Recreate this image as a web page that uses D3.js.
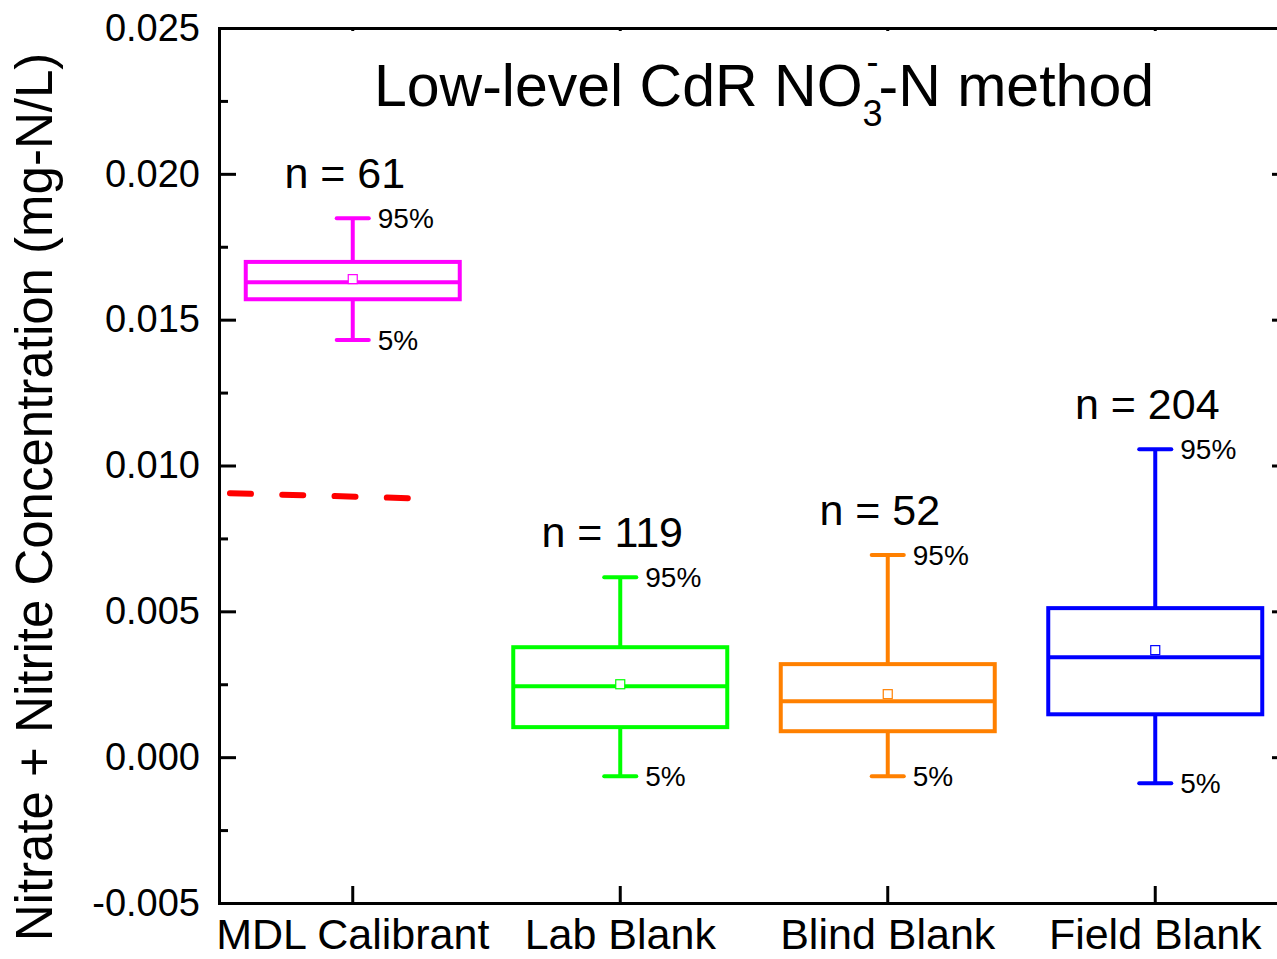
<!DOCTYPE html>
<html>
<head>
<meta charset="utf-8">
<script src="https://cdn.jsdelivr.net/npm/d3@7"></script>
<style>
  html, body { margin: 0; padding: 0; background: #fff; }
  svg { display: block; font-family: "Liberation Sans", Arial, sans-serif; }
</style>
</head>
<body>
<svg id="chart" width="1277" height="959"></svg>
<script>
// Sample groups and their summary statistics (mg-N/L)
const categories = ["MDL Calibrant", "Lab Blank", "Blind Blank", "Field Blank"];
const colors     = ["#ff00ff", "#00ff00", "#ff8000", "#0000ff"];
const counts     = [61, 119, 52, 204];
const p95        = [0.01848, 0.00617, 0.00693, 0.01056];
const q3         = [0.01698, 0.00377, 0.00319, 0.00511];
const medians    = [0.01628, 0.00243, 0.00192, 0.00343];
const means      = [0.01639, 0.00250, 0.00216, 0.00367];
const q1         = [0.01570, 0.00103, 0.00089, 0.00147];
const p5         = [0.01430, -0.00065, -0.00065, -0.00089];

// Method detection limit reference line (x in category-index units)
const mdlLineX = [-0.459, 0.206];
const mdlLineY = [0.00905, 0.00888];

const yMajorTicks = [-0.005, 0.000, 0.005, 0.010, 0.015, 0.020, 0.025];
const yMinorTicks = [-0.0025, 0.0025, 0.0075, 0.0125, 0.0175, 0.0225];

const margin = { left: 219, right: 1289, top: 28, bottom: 903 };

const svg = d3.select("#chart");

const y = d3.scaleLinear().domain([-0.005, 0.025]).range([margin.bottom, margin.top]);
const x = d3.scaleBand().domain(categories).range([margin.left, margin.right]);
const xIdx = d3.scaleLinear().domain([-0.5, categories.length - 0.5]).range([margin.left, margin.right]);

const bw = x.bandwidth();
const boxW = bw * 0.8;
const capW = bw * 0.12;

const data = categories.map((c, i) => ({
  cat: c, color: colors[i], n: counts[i],
  p95: p95[i], q3: q3[i], med: medians[i], mean: means[i], q1: q1[i], p5: p5[i],
  cx: x(c) + bw / 2
}));

// Axes: inward major and minor ticks on all sides
const axisStyle = g => {
  g.selectAll(".domain").attr("stroke", "#000").attr("stroke-width", 3);
  g.selectAll(".tick line").attr("stroke", "#000").attr("stroke-width", 3);
};
const fmt3 = d3.format(".3f");
const yFormat = d => fmt3(d).replace("\u2212", "-");

svg.append("g")
  .attr("transform", `translate(${margin.left},0)`)
  .call(d3.axisLeft(y).tickValues(yMinorTicks).tickSize(-9).tickFormat(""))
  .call(axisStyle);

const leftAxis = svg.append("g")
  .attr("transform", `translate(${margin.left},0)`)
  .call(d3.axisLeft(y).tickValues(yMajorTicks).tickSize(-17).tickPadding(19)
        .tickFormat(yFormat).tickSizeOuter(0))
  .call(axisStyle);
leftAxis.selectAll(".tick text")
  .attr("font-size", 38).attr("fill", "#000")
  .attr("font-family", "'Liberation Sans', Arial, sans-serif");

svg.append("g")
  .attr("transform", `translate(${margin.right},0)`)
  .call(d3.axisRight(y).tickValues(yMinorTicks).tickSize(-9).tickFormat(""))
  .call(axisStyle);
svg.append("g")
  .attr("transform", `translate(${margin.right},0)`)
  .call(d3.axisRight(y).tickValues(yMajorTicks).tickSize(-17).tickFormat("").tickSizeOuter(0))
  .call(axisStyle);

const bottomAxis = svg.append("g")
  .attr("transform", `translate(0,${margin.bottom})`)
  .call(d3.axisBottom(x).tickSize(-17).tickSizeOuter(0).tickPadding(0))
  .call(axisStyle);
bottomAxis.selectAll(".tick text")
  .attr("font-size", 43).attr("fill", "#000")
  .attr("font-family", "'Liberation Sans', Arial, sans-serif")
  .attr("y", 46).attr("dy", 0);

svg.append("g")
  .attr("transform", `translate(0,${margin.top})`)
  .call(d3.axisTop(x).tickSize(-3).tickSizeOuter(0).tickFormat(""))
  .call(axisStyle);

// Boxes
const groups = svg.append("g").selectAll("g.box").data(data).join("g").attr("class", "box");

groups.append("line") // upper whisker
  .attr("x1", d => d.cx).attr("x2", d => d.cx)
  .attr("y1", d => y(d.q3)).attr("y2", d => y(d.p95))
  .attr("stroke", d => d.color).attr("stroke-width", 4);
groups.append("line") // lower whisker
  .attr("x1", d => d.cx).attr("x2", d => d.cx)
  .attr("y1", d => y(d.q1)).attr("y2", d => y(d.p5))
  .attr("stroke", d => d.color).attr("stroke-width", 4);
groups.append("line")
  .attr("x1", d => d.cx - capW / 2).attr("x2", d => d.cx + capW / 2)
  .attr("y1", d => y(d.p95)).attr("y2", d => y(d.p95))
  .attr("stroke", d => d.color).attr("stroke-width", 4).attr("stroke-linecap", "round");
groups.append("line")
  .attr("x1", d => d.cx - capW / 2).attr("x2", d => d.cx + capW / 2)
  .attr("y1", d => y(d.p5)).attr("y2", d => y(d.p5))
  .attr("stroke", d => d.color).attr("stroke-width", 4).attr("stroke-linecap", "round");

groups.append("rect")
  .attr("x", d => d.cx - boxW / 2).attr("width", boxW)
  .attr("y", d => y(d.q3)).attr("height", d => y(d.q1) - y(d.q3))
  .attr("fill", "none").attr("stroke", d => d.color).attr("stroke-width", 4);
groups.append("line")
  .attr("x1", d => d.cx - boxW / 2).attr("x2", d => d.cx + boxW / 2)
  .attr("y1", d => y(d.med)).attr("y2", d => y(d.med))
  .attr("stroke", d => d.color).attr("stroke-width", 4);
groups.append("rect") // mean marker
  .attr("x", d => d.cx - 4.5).attr("y", d => y(d.mean) - 4.5)
  .attr("width", 9).attr("height", 9)
  .attr("fill", "#fff").attr("stroke", d => d.color).attr("stroke-width", 1.2);

// Percentile and count labels
groups.append("text")
  .attr("x", d => d.cx + 25).attr("y", d => y(d.p95)).attr("dy", "0.35em")
  .attr("font-size", 28).text("95%");
groups.append("text")
  .attr("x", d => d.cx + 25).attr("y", d => y(d.p5)).attr("dy", "0.35em")
  .attr("font-size", 28).text("5%");
groups.append("text")
  .attr("x", d => d.cx - 8).attr("y", d => y(d.p95) - 30)
  .attr("text-anchor", "middle").attr("font-size", 43)
  .text(d => `n = ${d.n}`);

// MDL dashed line
svg.append("path")
  .datum(mdlLineX.map((v, i) => [v, mdlLineY[i]]))
  .attr("d", d3.line().x(d => xIdx(d[0])).y(d => y(d[1])))
  .attr("fill", "none").attr("stroke", "#ff0000").attr("stroke-width", 6)
  .attr("stroke-linecap", "round").attr("stroke-dasharray", "21 31.3");

// Title
const title = svg.append("text")
  .attr("x", 764).attr("y", 106).attr("text-anchor", "middle")
  .attr("font-size", 59);
title.append("tspan").text("Low-level CdR NO");
title.append("tspan").attr("font-size", 36).attr("dy", 20).text("3");
title.append("tspan").attr("font-size", 36).attr("dx", -16).attr("dy", -52).text("-");
title.append("tspan").attr("dy", 32).text("-N method");

// Y axis label
svg.append("text")
  .attr("transform", "translate(52,497) rotate(-90)")
  .attr("text-anchor", "middle").attr("font-size", 51)
  .text("Nitrate + Nitrite Concentration (mg-N/L)");
</script>
</body>
</html>
